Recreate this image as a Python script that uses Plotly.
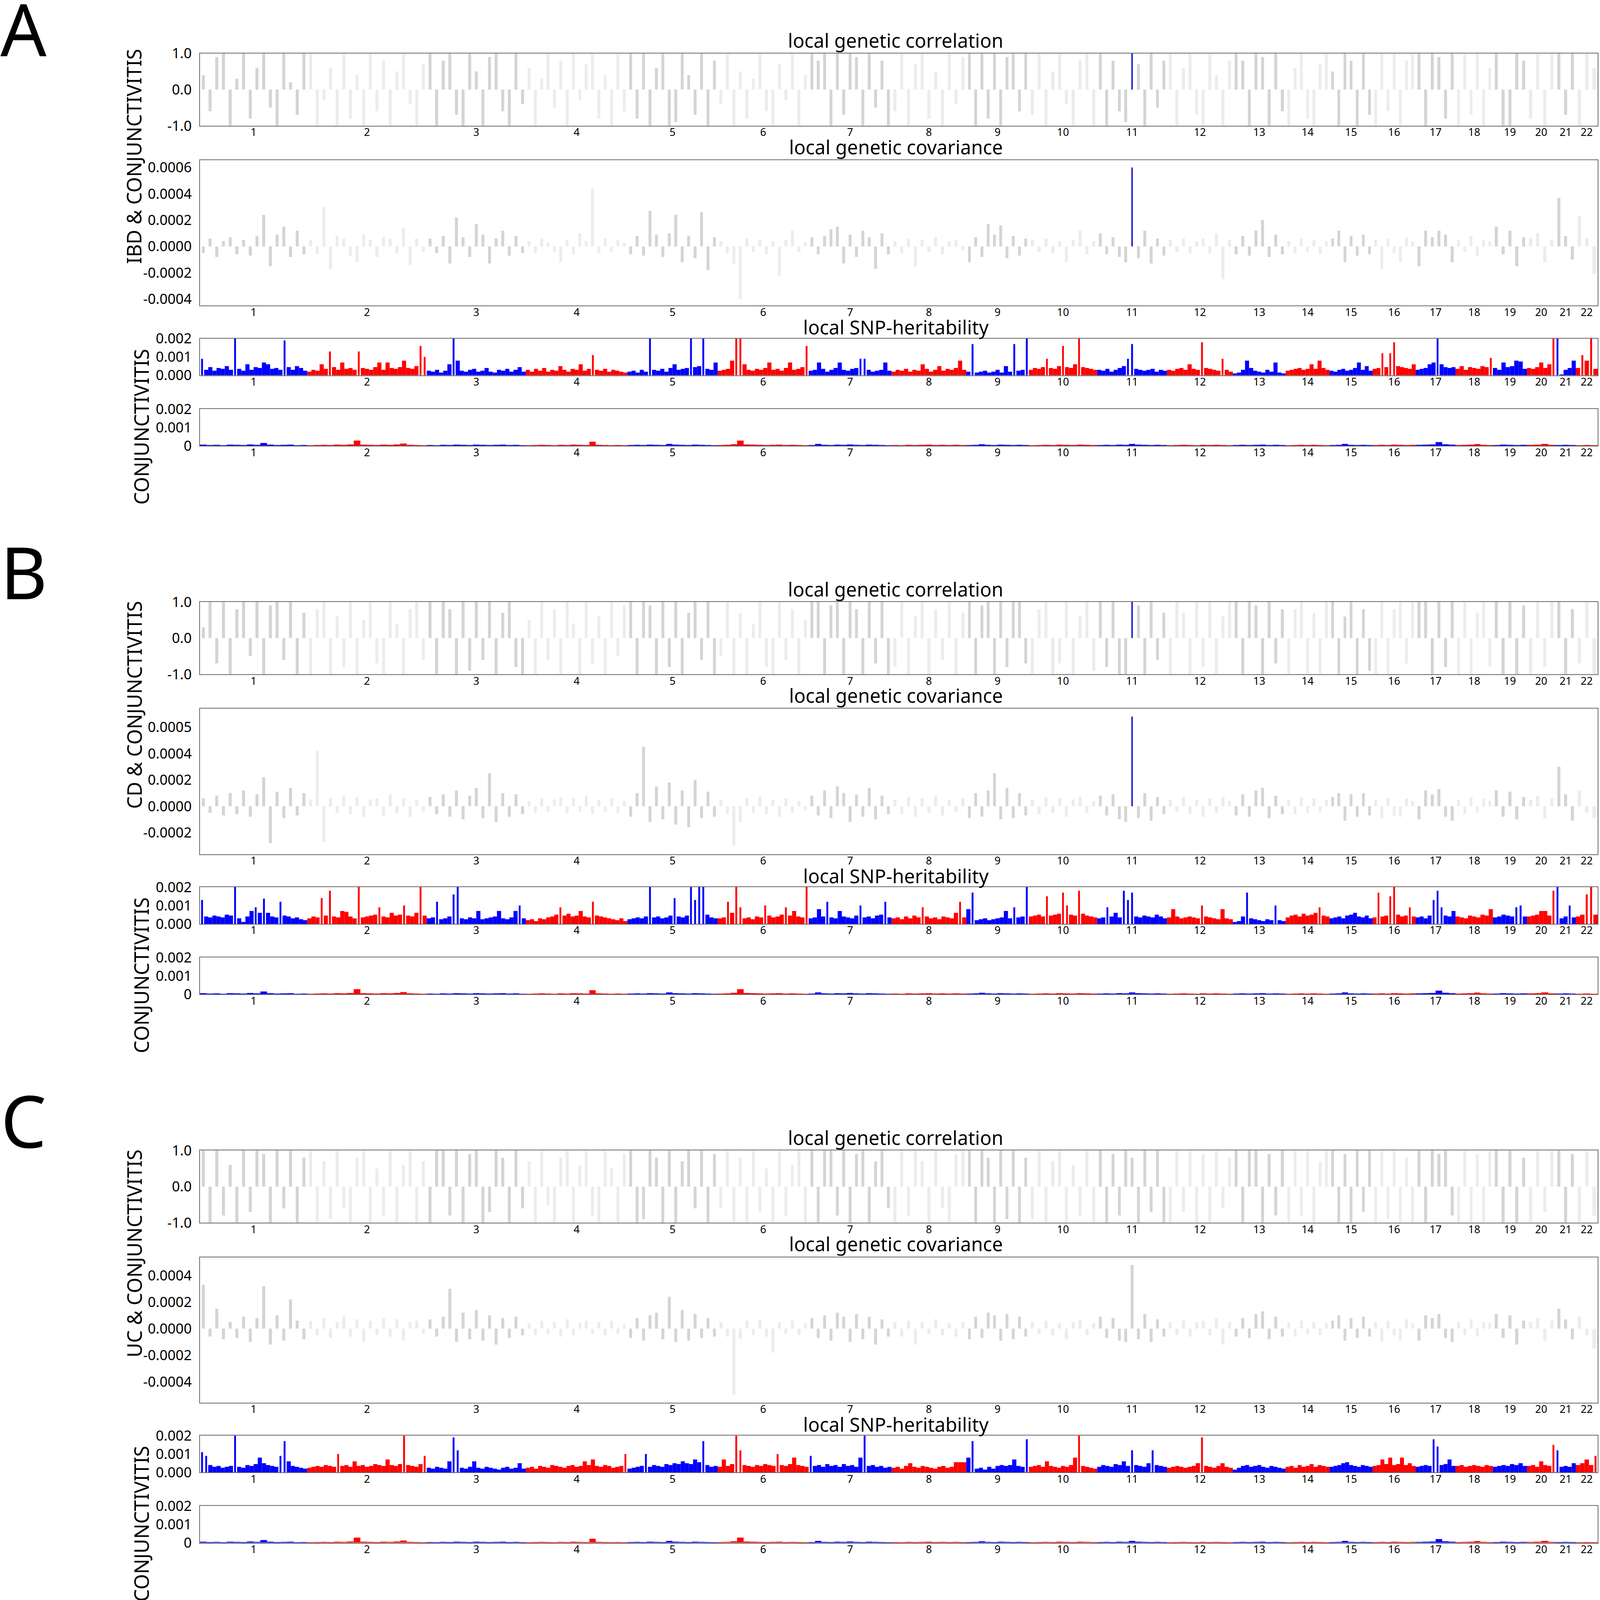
import plotly.graph_objects as go

# reference size in px; every position below is a fraction of it, and the
# figure fills the browser window
W, H = 4176, 4186
# the window's page area is about PAD px shorter than the photo at top and bottom
PAD = 28

CHROMS = list(range(1, 23))
# width of each chromosome on the x axis, in LD blocks
CHR_BLOCKS = [132, 147, 122, 125, 111, 112, 102, 92, 77, 84, 86,
              81, 65, 54, 53, 53, 49, 46, 42, 35, 25, 27]

# ---- local genetic correlation (x0.1), one list per chromosome ----
corr_ibd = [
    [4, -6, 9, 10, -10, 3, 10, -8, 6, 10, -5, -10, 10, 2, -7, 10],
    [10, -10, -3, 6, -10, 10, -8, 4, -10, 10, -6, 8, -10, 5, 10, -4, -10, 7],
    [10, -10, 8, 10, -7, -10, 10, 5, -10, 9, 10, -6, -10, 10, -4],
    [6, -10, 3, 10, -5, 8, -10, 10, -3, 7, 10, -8, 4, -10, 10, -6],
    [10, -8, 10, -10, 6, 10, -10, -9, 10, 4, -7, 10, -10, 8],
    [-4, 10, -10, 5, -8, 3, 10, -6, -10, 7, -3, 10, -10, 4],
    [10, 8, 10, -10, 10, -7, 10, 9, -10, 10, -5, 8, -10],
    [-6, 10, -10, 7, 10, -8, 5, -10, 10, -4, 9],
    [10, -10, 10, -8, 10, -10, 9, 10, -6, 10],
    [-7, 10, -10, 5, 10, -4, -10, 8, 10, -10],
    [10, -10, 8, -6, -9, 10, 7, -10, 10, -5, 8],
    [10, -10, 6, 10, -7, -10, 10, 4, -10, 8],
    [10, 8, -10, 10, 9, -10, 10, -6],
    [-10, 6, 10, -8, -10, 7, 10],
    [5, -10, 10, 8, -10, 10, -7],
    [-10, 10, -6, 10, -10, 8, 10],
    [10, -10, 10, 9, -8, 10],
    [-10, 10, -7, 10, -10, 6],
    [10, -10, -10, 10, 8],
    [-8, 10, -10, 10],
    [10, -7, 10],
    [-10, 10, 6],
]
corr_cd = [
    [3, 10, -7, 10, -10, 8, 10, -5, 10, -10, 9, 10, -6, 10, -10, 7],
    [-10, 8, 10, -10, 6, -8, 10, -10, 5, 10, -7, -10, 10, 4, -10, 8, 10, -6],
    [10, -10, 10, 8, -10, 10, -9, 10, -6, 10, -10, 7, 10, -8, -10],
    [5, -10, 10, -6, 8, -10, 10, 4, -10, 10, -7, 6, -10, 10, -5, 9],
    [10, -10, 10, 9, -10, 10, -8, 10, -10, 7, 10, -6, 10, -10],
    [-5, 10, -10, 7, -10, 4, 10, -8, -10, 10, -6, 8, -10, 5],
    [10, 10, -10, 9, 10, -10, 10, 8, -10, 10, -7, 10, -10],
    [-8, 10, -10, 6, 10, -10, 8, -6, 10, -10, 7],
    [10, -10, 9, 10, -10, 10, -8, 10, 10, -7],
    [-10, 8, 10, -10, -7, 10, -10, 6, 10, -9],
    [10, -8, 10, -10, -10, 10, 9, -10, 10, -6, 7],
    [-10, 10, 7, -10, 10, -8, 10, -10, 6, 10],
    [10, -10, 10, 9, -10, 10, -7, 8],
    [-10, 8, 10, -10, 7, -10, 10],
    [10, -10, 6, 10, -10, 8, -9],
    [-10, 10, -10, 8, 10, -7, 10],
    [10, 10, -10, 10, -8, 10],
    [-10, 10, -10, 7, 10, -8],
    [10, -10, 10, -10, 9],
    [-10, 10, -8, 10],
    [10, -10, 8],
    [-7, 10, -10],
]
corr_uc = [
    [10, -10, 10, -8, 6, -10, 10, -7, 10, 9, -10, 10, -6, 10, -10, 8],
    [10, -10, 7, -9, 10, -6, -10, 8, 10, -10, 5, -8, 10, -10, 6, 10, -10, 7],
    [-10, 10, 10, -8, 10, -10, 9, 10, -10, -7, 10, 8, -10, 10, -6],
    [7, -10, 10, -5, -10, 8, 10, -10, 6, 10, -8, -10, 10, 5, -10, 9],
    [10, -10, -9, 10, 8, -10, 10, -10, 7, 10, -6, 10, -10, 9],
    [-6, 10, -10, 8, -10, 10, -7, 5, -10, 10, -8, 6, 10, -10],
    [10, -10, 10, 10, -8, 10, -10, 9, 10, -10, 7, 10, -6],
    [-10, 10, -8, 10, 7, -10, 10, -6, -10, 9, 10],
    [10, -10, 10, 8, -10, 10, -9, 10, -10, 8],
    [-9, 10, -10, 7, 10, -10, 6, -8, 10, -10],
    [10, -10, 9, -8, 10, 8, -10, 10, -7, 10, -10],
    [-10, 10, -7, 10, -10, 9, -10, 10, -6, 8],
    [10, -10, 10, 10, -10, 9, -8, 10],
    [-10, 10, -8, 10, -10, 7, 10],
    [10, -10, 9, -10, 10, -7, 10],
    [-10, 10, -9, 10, -10, 8, -10],
    [10, -10, 10, 9, 10, -8],
    [-10, 10, -10, 9, -10, 10],
    [10, -10, 10, -10, 8],
    [-10, 10, -7, 10],
    [10, -10, 9],
    [-10, 10, -8],
]

# ---- local genetic covariance (x1e-5) ----
cov_ibd = [
    [-5, 6, -8, 4, 7, -6, 5, -7, 8, 24, -15, 9, 15, -8, 12, -6],
    [5, -6, 30, -17, 8, 6, -7, -12, 9, 5, -8, 7, 6, -5, 14, -14, 6, -4],
    [6, -5, 8, -13, 22, 7, -8, 17, 9, -13, 6, 12, -7, 8, -5],
    [4, -5, 6, 3, -4, -12, 5, -6, 10, 4, 44, -5, 6, -4, 5, 3],
    [-6, 8, -7, 27, 9, -8, 10, 24, -12, 8, -9, 26, -18, 7],
    [4, -5, -13, -40, 6, -4, 5, -6, 4, -22, 5, 12, -4, 3],
    [7, -6, 8, 13, 15, -13, 9, -8, 12, 7, -17, 10, -6],
    [4, -5, 6, -15, 5, -4, 7, -6, 4, 5, -3],
    [-12, 7, -8, 17, 9, 16, -9, 8, -7, 6],
    [5, -4, 6, -5, 4, -12, 5, 12, -6, 4],
    [10, -6, 7, -8, -12, 60, -9, 12, -13, 6, -7],
    [5, -4, 6, -5, 4, 6, -5, 10, -25, 5],
    [-6, 8, -7, 12, 20, -8, 9, -6],
    [4, -5, 6, -4, 5, -6, 4],
    [6, 12, -12, 8, -7, 9, -6],
    [5, -17, 6, -5, -12, 7, 4],
    [-15, 12, 7, 12, 9, -12],
    [5, -4, 8, -7, 5, 4],
    [15, -6, 12, -15, 7],
    [6, 10, -12, 5],
    [37, 8, -10],
    [23, 6, -21],
]
cov_cd = [
    [6, -5, 8, -7, 10, -6, 12, -8, 9, 22, -28, 11, -9, 14, -7, 10],
    [5, 42, -27, 6, -5, 8, -6, 7, -8, 5, 6, -7, 9, -5, 6, -8, 5, -4],
    [7, -6, 9, -8, 12, -10, 8, 14, -9, 25, -12, 10, -8, 9, -6],
    [4, -5, 6, -4, 5, 7, -5, 6, -4, 8, -6, 5, -4, 6, -5, 4],
    [-8, 10, 45, -12, 15, -10, 18, -14, 12, -16, 20, -9, 11, -8],
    [5, -6, -30, -12, 6, -5, 7, -6, 5, -8, 6, -5, 4, -3],
    [8, -7, 12, -9, 15, 10, -12, 9, -8, 14, -10, 8, -6],
    [5, -6, 7, -8, 6, -5, 8, -7, 5, -4, 6],
    [-9, 10, -8, 12, 25, -10, 14, -9, 10, -7],
    [5, -6, 7, -5, 6, -8, 5, 7, -5, 4],
    [8, -7, 9, -10, -12, 68, -9, 10, -11, 7, -6],
    [5, -4, 7, -6, 5, -8, 6, -5, 7, 4],
    [-7, 9, -8, 12, 14, -9, 8, -6],
    [5, -6, 7, -5, 6, -4, 5],
    [7, 10, -11, 9, -8, 10, -7],
    [5, -9, 6, -7, -8, 6, 4],
    [-10, 12, 9, 13, -8, -11],
    [5, -6, 7, -5, 6, 4],
    [12, -8, 11, -10, 7],
    [5, 8, -9, 6],
    [30, 9, -11],
    [12, -5, -9],
]
cov_uc = [
    [33, -6, 15, -8, 5, -7, 9, -10, 8, 32, -12, 10, -9, 22, 6, -8],
    [6, -5, 8, -7, 5, 9, -6, 7, -10, 6, -5, 8, -6, 7, -9, 5, 6, -4],
    [7, -6, 9, 30, -10, 12, -8, 14, -9, 10, -12, 8, -7, 9, -5],
    [4, -5, 6, -4, 5, -6, 7, -5, 4, 6, -4, 5, -5, 6, -4, 3],
    [-7, 8, -9, 10, 12, -8, 24, -10, 14, -9, 11, -7, 8, -6],
    [5, -6, -50, -8, 6, -5, 7, -6, -18, 5, -4, 6, -5, 4],
    [8, -7, 10, -9, 12, 9, -10, 11, -8, 9, -12, 7, -6],
    [5, -6, 6, -12, 5, -4, 7, -5, 4, -6, 5],
    [-8, 9, -7, 12, 10, -9, 11, -8, 9, -6],
    [5, -4, 6, -5, 4, -8, 5, 7, -5, 4],
    [9, -7, 8, -9, -10, 48, -8, 11, -10, 7, -6],
    [5, -5, 6, -6, 5, 6, -5, 8, -12, 5],
    [-6, 8, -7, 11, 13, -8, 9, -6],
    [5, -6, 6, -4, 5, -5, 4],
    [6, 10, -9, 8, -7, 9, -6],
    [5, -10, 6, -5, -9, 7, 4],
    [-9, 10, 8, 11, -7, -10],
    [5, -5, 7, -6, 5, 4],
    [11, -7, 10, -12, 6],
    [5, 8, -9, 6],
    [15, 7, -8],
    [9, -5, -15],
]

# ---- local SNP-heritability (x1e-5) ----
h2_ibd = [
    [90, 30, 45, 25, 40, 35, 50, 30, 200, 35, 25, 60, 30, 45, 40, 70, 60, 35, 40, 30, 190, 45, 30, 50, 40, 25],
    [20, 30, 25, 60, 35, 130, 45, 30, 70, 35, 40, 30, 130, 40, 35, 30, 45, 70, 30, 70, 40, 35, 45, 80, 40, 35, 50, 160, 100],
    [25, 20, 30, 15, 25, 60, 200, 80, 25, 20, 30, 35, 20, 25, 40, 20, 15, 30, 25, 35, 20, 30, 45, 20],
    [30, 20, 35, 25, 40, 20, 30, 25, 50, 30, 20, 35, 30, 60, 25, 35, 110, 30, 25, 35, 20, 30, 25, 20, 15],
    [20, 25, 15, 30, 20, 200, 30, 25, 35, 20, 40, 60, 30, 35, 40, 200, 45, 50, 200, 35, 30, 70],
    [25, 30, 35, 80, 200, 200, 60, 30, 25, 35, 30, 40, 70, 30, 35, 25, 40, 70, 30, 35, 45, 160],
    [25, 30, 70, 35, 20, 30, 40, 70, 30, 25, 35, 40, 90, 90, 30, 20, 25, 30, 70, 25],
    [20, 30, 25, 35, 20, 30, 25, 60, 35, 20, 30, 50, 25, 35, 30, 40, 80, 30],
    [20, 170, 15, 20, 25, 15, 20, 30, 15, 50, 20, 170, 25, 30, 200],
    [30, 40, 35, 45, 90, 40, 35, 50, 160, 45, 40, 60, 200, 45, 40, 35, 30],
    [30, 25, 35, 20, 30, 40, 50, 90, 170, 35, 30, 25, 30, 35, 20, 30, 25],
    [30, 25, 35, 40, 30, 60, 35, 30, 180, 40, 35, 30, 25, 90, 30, 20],
    [10, 15, 30, 80, 40, 25, 20, 15, 30, 20, 70, 15, 10],
    [25, 30, 35, 40, 30, 35, 60, 35, 80, 40, 30],
    [25, 20, 30, 35, 25, 30, 40, 70, 30, 50, 25],
    [35, 40, 120, 45, 120, 180, 50, 45, 40, 35, 60],
    [30, 35, 40, 60, 70, 200, 60, 45, 40, 45],
    [35, 50, 30, 45, 40, 35, 50, 45, 95],
    [40, 30, 70, 45, 50, 80, 75, 35],
    [40, 35, 45, 70, 40, 60, 200],
    [200, 5, 30, 40, 80],
    [40, 110, 80, 200, 35],
]
h2_cd = [
    [130, 40, 35, 45, 40, 35, 50, 45, 200, 30, 10, 40, 70, 90, 60, 137, 60, 40, 35, 120, 45, 40, 30, 35, 25, 20],
    [30, 40, 35, 140, 45, 180, 40, 35, 70, 65, 40, 30, 200, 35, 40, 45, 50, 90, 40, 35, 60, 45, 50, 100, 45, 40, 60, 200, 45],
    [30, 35, 120, 25, 30, 40, 160, 200, 30, 25, 35, 30, 70, 25, 30, 35, 40, 70, 30, 25, 35, 70, 100, 30],
    [20, 25, 15, 30, 25, 35, 40, 50, 90, 45, 55, 40, 45, 70, 40, 35, 120, 45, 40, 35, 30, 25, 20, 30, 15],
    [25, 30, 35, 30, 40, 200, 35, 40, 30, 35, 45, 140, 40, 35, 45, 200, 130, 200, 200, 50, 35, 30],
    [30, 35, 120, 60, 200, 90, 30, 35, 25, 40, 35, 100, 45, 35, 40, 50, 90, 45, 70, 40, 35, 200],
    [30, 35, 80, 40, 120, 35, 30, 70, 40, 35, 30, 45, 100, 35, 40, 30, 45, 50, 120, 35],
    [30, 35, 25, 40, 30, 45, 35, 90, 40, 30, 35, 25, 40, 35, 30, 60, 120, 35],
    [80, 170, 20, 25, 30, 20, 25, 30, 35, 70, 30, 90, 35, 40, 200],
    [40, 45, 50, 40, 150, 45, 50, 55, 170, 100, 50, 45, 180, 55, 45, 40, 35],
    [30, 35, 90, 40, 60, 35, 180, 130, 170, 40, 35, 45, 40, 35, 50, 40, 30],
    [35, 80, 40, 30, 35, 40, 35, 30, 100, 40, 35, 30, 25, 80, 30, 25],
    [10, 15, 40, 170, 30, 25, 20, 15, 25, 20, 100, 20, 15],
    [35, 45, 50, 40, 55, 45, 50, 60, 90, 45, 40],
    [30, 35, 40, 30, 45, 50, 60, 40, 35, 45, 30],
    [35, 170, 40, 45, 150, 200, 50, 40, 45, 90, 40],
    [35, 40, 30, 45, 130, 180, 90, 45, 40, 70],
    [40, 35, 30, 45, 40, 35, 50, 45, 80],
    [35, 40, 50, 45, 40, 90, 100, 40],
    [40, 45, 50, 70, 70, 45, 180],
    [200, 30, 40, 100, 35],
    [40, 50, 160, 200, 50],
]
h2_uc = [
    [110, 90, 40, 30, 35, 25, 30, 35, 200, 30, 25, 40, 35, 45, 80, 50, 40, 35, 30, 90, 170, 60, 35, 30, 25, 20],
    [25, 30, 35, 30, 40, 35, 30, 100, 35, 40, 30, 60, 35, 40, 30, 35, 45, 40, 35, 70, 40, 35, 45, 200, 40, 35, 30, 45, 90],
    [25, 20, 30, 25, 20, 60, 190, 120, 25, 20, 30, 60, 25, 20, 30, 25, 20, 15, 25, 30, 20, 25, 50, 20],
    [25, 30, 20, 35, 30, 25, 40, 35, 30, 25, 35, 40, 30, 35, 60, 40, 70, 35, 30, 40, 35, 25, 30, 35, 100],
    [20, 25, 30, 35, 100, 30, 40, 35, 30, 45, 40, 50, 45, 60, 50, 45, 70, 55, 170, 40, 30, 35],
    [30, 70, 35, 45, 200, 120, 40, 35, 30, 40, 35, 45, 40, 35, 100, 40, 35, 45, 80, 40, 35, 30],
    [90, 35, 40, 30, 45, 35, 40, 30, 45, 35, 40, 30, 80, 200, 35, 40, 30, 35, 25, 30],
    [25, 30, 20, 35, 50, 30, 25, 35, 30, 25, 20, 30, 35, 25, 30, 55, 55, 55],
    [80, 170, 20, 25, 15, 30, 20, 35, 40, 35, 40, 70, 35, 30, 180],
    [30, 35, 40, 30, 60, 35, 30, 25, 35, 30, 40, 80, 200, 35, 30, 25, 20],
    [30, 40, 35, 30, 45, 40, 60, 35, 120, 40, 35, 30, 50, 120, 40, 35, 30],
    [25, 30, 35, 30, 25, 30, 35, 50, 190, 35, 30, 25, 35, 50, 30, 25],
    [15, 25, 35, 40, 30, 35, 40, 30, 25, 35, 30, 25, 20],
    [30, 35, 25, 40, 30, 35, 45, 30, 40, 35, 30],
    [30, 35, 40, 50, 55, 40, 35, 30, 40, 35, 30],
    [35, 40, 70, 45, 80, 40, 45, 80, 40, 50, 35],
    [30, 35, 40, 35, 180, 140, 40, 45, 70, 35],
    [35, 40, 30, 35, 40, 35, 30, 40, 35],
    [30, 35, 40, 35, 45, 40, 50, 35],
    [35, 40, 30, 60, 40, 35, 150],
    [120, 30, 35, 30, 50],
    [40, 50, 70, 40, 90],
]
h2_conj = [
    [6, 4, 5, 3, 6, 5, 4, 7, 5, 15, 6, 4, 5, 6, 3, 4],
    [3, 4, 5, 4, 6, 5, 7, 28, 6, 5, 4, 6, 5, 7, 12, 5, 4, 3],
    [4, 3, 5, 4, 6, 5, 4, 6, 5, 4, 5, 6, 4, 5, 3],
    [3, 4, 5, 4, 3, 5, 4, 6, 5, 4, 22, 5, 4, 3, 4, 3],
    [4, 5, 4, 6, 5, 4, 10, 6, 5, 4, 6, 5, 4, 3],
    [4, 5, 8, 28, 7, 6, 5, 4, 5, 6, 4, 5, 4, 3],
    [4, 10, 5, 4, 6, 5, 7, 5, 4, 6, 5, 4, 3],
    [4, 3, 5, 4, 5, 6, 4, 5, 4, 5, 4],
    [4, 5, 8, 5, 4, 6, 5, 4, 5, 4],
    [3, 4, 5, 4, 6, 5, 4, 6, 5, 4],
    [4, 5, 4, 6, 5, 10, 6, 5, 4, 5, 4],
    [3, 4, 5, 4, 3, 5, 4, 5, 4, 3],
    [4, 5, 4, 5, 6, 4, 5, 4],
    [3, 4, 5, 4, 5, 4, 3],
    [4, 5, 10, 5, 4, 5, 4],
    [4, 5, 4, 6, 5, 4, 5],
    [5, 6, 7, 20, 8, 6],
    [4, 5, 6, 9, 5, 4],
    [4, 6, 5, 4, 5],
    [5, 6, 10, 5],
    [4, 5, 4],
    [3, 4, 3],
]

# the block that reaches significance in panels A and B (chr 11)
SIG_CHR, SIG_SLOT = 11, 5

PAIR_LABELS = ["IBD & CONJUNCTIVITIS", "CD & CONJUNCTIVITIS", "UC & CONJUNCTIVITIS"]
PANEL_LETTERS = ["A", "B", "C"]

# covariance axes differ per panel
cov_ranges = [[-0.00045, 0.000655], [-0.000364, 0.00074], [-0.000558, 0.000538]]
cov_tickvals = [[-0.0004, -0.0002, 0, 0.0002, 0.0004, 0.0006],
                [-0.0002, 0, 0.0002, 0.0004, 0.0006],
                [-0.0004, -0.0002, 0, 0.0002, 0.0004]]
cov_ticktext = [["-0.0004", "-0.0002", "0.0000", "0.0002", "0.0004", "0.0006"],
                ["-0.0002", "0.0000", "0.0002", "0.0004", "0.0005"],
                ["-0.0004", "-0.0002", "0.0000", "0.0002", "0.0004"]]

for tr in [corr_ibd, corr_cd, corr_uc, cov_ibd, cov_cd, cov_uc, h2_ibd, h2_cd, h2_uc, h2_conj]:
    assert len(tr) == 22

# colours
GRAY_ODD = "#d4d4d4"
GRAY_EVEN = "#ececec"
SIG_BLUE = "#0000cd"
BLUE = "#0000ff"
RED = "#ff0000"
FRAME = "#6a6a6a"
FONT = "Noto Sans"

# pixel layout (reference image coordinates)
X_LEFT, X_RIGHT = 522, 4170
PANEL_STEP = 1433
ROWS = [("corr", 142, 331), ("cov", 421, 801), ("h1", 887, 983), ("h2", 1071, 1167)]


def fx(px):
    return min(1.0, max(0.0, px / W))


def fy(px):
    return min(1.0, max(0.0, 1 - (px - PAD) / (H - 2 * PAD)))


starts = []
s = 0
for n in CHR_BLOCKS:
    starts.append(s)
    s += n
TOTAL = s
centres = [st + n / 2 for st, n in zip(starts, CHR_BLOCKS)]


def build_bars(per_chr, scale, kind, sig):
    xs, ys, ws, cs = [], [], [], []
    for ci, vals in enumerate(per_chr):
        step = CHR_BLOCKS[ci] / len(vals)
        for k, v in enumerate(vals):
            xs.append(starts[ci] + (k + 0.5) * step)
            ys.append(v * scale)
            if kind in ("corr", "cov"):
                if sig and ci + 1 == SIG_CHR and k == SIG_SLOT:
                    cs.append(SIG_BLUE)
                    ws.append(1.6)
                else:
                    cs.append(GRAY_ODD if ci % 2 == 0 else GRAY_EVEN)
                    ws.append(step * 0.45)
            else:
                cs.append(BLUE if ci % 2 == 0 else RED)
                ws.append(step if v < 90 else step * 0.45)
    return xs, ys, ws, cs


fig = go.Figure()
annotations = []
ax = 0
panel_data = [
    (corr_ibd, cov_ibd, h2_ibd, True),
    (corr_cd, cov_cd, h2_cd, True),
    (corr_uc, cov_uc, h2_uc, False),
]

for p, (corr, cov, h1, sig) in enumerate(panel_data):
    off = p * PANEL_STEP
    for kind, top, bot in ROWS:
        ax += 1
        if kind == "corr":
            data, scale = corr, 0.1
            yr, tv, tt = [-1, 1], [-1, 0, 1], ["-1.0", "0.0", "1.0"]
        elif kind == "cov":
            data, scale = cov, 1e-5
            yr, tv, tt = cov_ranges[p], cov_tickvals[p], cov_ticktext[p]
        elif kind == "h1":
            data, scale = h1, 1e-5
            yr, tv, tt = [0, 0.002], [0, 0.001, 0.002], ["0.000", "0.001", "0.002"]
        else:
            data, scale = h2_conj, 1e-5
            yr, tv, tt = [0, 0.002], [0, 0.001, 0.002], ["0", "0.001", "0.002"]

        xs, ys, ws, cs = build_bars(data, scale, kind, sig)
        xn = "x" if ax == 1 else f"x{ax}"
        yn = "y" if ax == 1 else f"y{ax}"
        fig.add_trace(go.Bar(x=xs, y=ys, width=ws, marker=dict(color=cs, line=dict(width=0)),
                             xaxis=xn, yaxis=yn, showlegend=False, hoverinfo="skip"))

        xa = dict(domain=[fx(X_LEFT), fx(X_RIGHT)], range=[0, TOTAL], anchor=yn,
                  tickmode="array", tickvals=centres, ticktext=[str(c) for c in CHROMS],
                  ticks="", showgrid=False, zeroline=False, showline=True, mirror=True,
                  linecolor=FRAME, linewidth=2, tickfont=dict(size=27, color="black"),
                  ticklabelstandoff=-8, fixedrange=True)
        ya = dict(domain=[fy(bot + off), fy(top + off)], range=yr, anchor=xn,
                  tickmode="array", tickvals=tv, ticktext=tt,
                  ticks="", showgrid=False, zeroline=False, showline=True, mirror=True,
                  linecolor=FRAME, linewidth=2, tickfont=dict(size=36, color="black"),
                  ticklabelstandoff=12, fixedrange=True)
        fig.update_layout(**{("xaxis" if ax == 1 else f"xaxis{ax}"): xa,
                             ("yaxis" if ax == 1 else f"yaxis{ax}"): ya})

    # subplot titles
    for txt, yc in [("local genetic correlation", 108), ("local genetic covariance", 386),
                    ("local SNP-heritability", 857)]:
        annotations.append(dict(text=txt, x=fx(2338), y=fy(yc + off), xref="paper", yref="paper",
                                xanchor="center", yanchor="middle", showarrow=False,
                                font=dict(size=49, color="black")))
    # side labels
    annotations.append(dict(text=PAIR_LABELS[p], x=fx(349), y=fy(411 + off), xref="paper",
                            yref="paper", textangle=-90, xanchor="center", yanchor="middle",
                            showarrow=False, font=dict(size=51, color="black")))
    annotations.append(dict(text="CONJUNCTIVITIS", x=fx(368), y=fy(1117 + off), xref="paper",
                            yref="paper", textangle=-90, xanchor="center", yanchor="middle",
                            showarrow=False, font=dict(size=51, color="black")))
    # panel letter (kept inside the page area at the very top)
    annotations.append(dict(text=PANEL_LETTERS[p], x=fx(62), y=fy(max(61 + off, 76)), xref="paper",
                            yref="paper", xanchor="center", yanchor="middle", showarrow=False,
                            font=dict(size=185, color="black")))

fig.update_layout(
    autosize=True,
    margin=dict(l=0, r=0, t=0, b=0),
    paper_bgcolor="white", plot_bgcolor="white",
    font=dict(family=FONT, color="black"),
    barmode="overlay",
    annotations=annotations,
)

# the figure fills the whole window, without the page margin
fig.write_html("out.html", default_width="100vw", default_height="100vh",
               config={"displayModeBar": False},
               post_script="document.body.style.margin='0';document.body.style.overflow='hidden';")
